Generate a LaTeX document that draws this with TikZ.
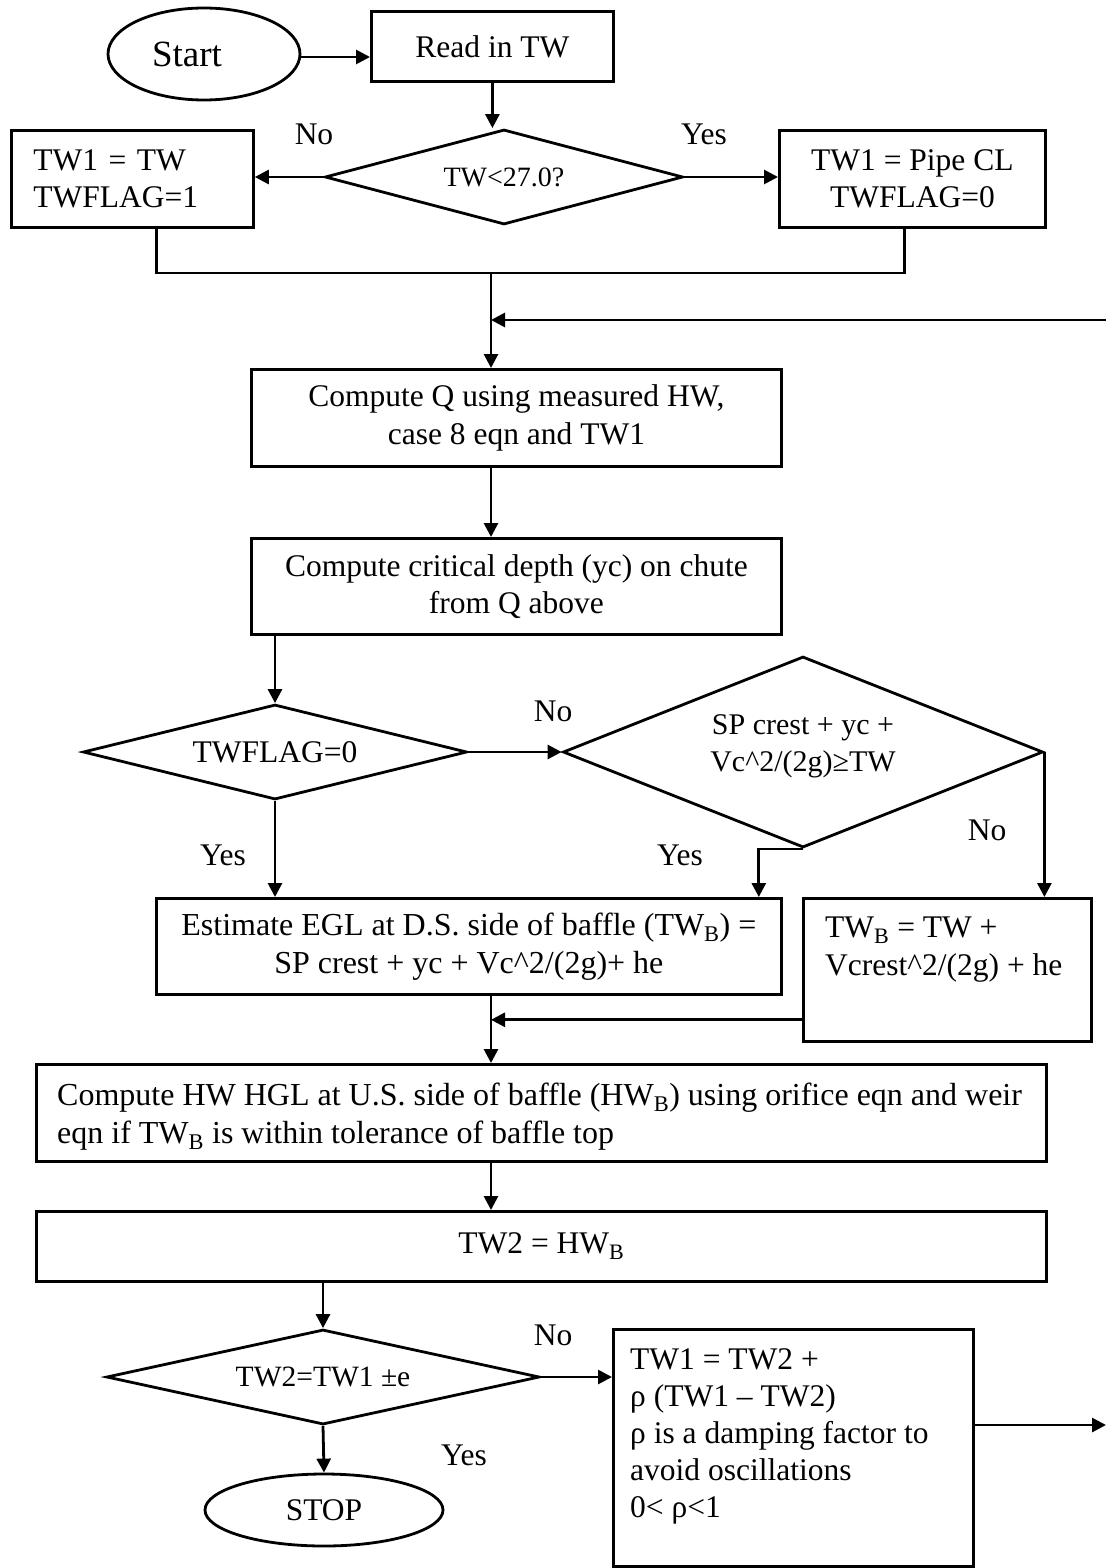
\documentclass[tikz,border=0pt]{standalone}
\usepackage{fontspec}
\setmainfont{Liberation Serif}
\usetikzlibrary{shapes.geometric,arrows.meta}
\begin{document}
\begin{tikzpicture}[x=1pt,y=-1pt,
  every node/.style={font=\fontsize{31.5}{37.5}\selectfont},
  box/.style={draw, line width=2.8pt, rectangle, inner sep=0pt, anchor=north west},
  dia/.style={draw, line width=2.8pt, diamond, inner sep=0pt, align=center},
  oval/.style={draw, line width=2.8pt, ellipse, inner sep=0pt},
  arr/.style={line width=2.8pt, -{Triangle[length=14pt,width=14pt]}},
  ln/.style={line width=2.8pt},
  txt/.style={inner sep=0pt, align=left, anchor=base west},
  lbl/.style={inner sep=0pt}]
\useasboundingbox (0,0) rectangle (1106,1568);

% nodes
\node[oval, minimum width=192pt, minimum height=92pt] (start) at (204,54) {};
\node[inner sep=0pt, font=\fontsize{37}{40}\selectfont] (startt) at (187,54) {Start};
\node[box, minimum width=242pt, minimum height=70pt] (read) at (370,10) {Read in TW};
\node[dia, shape aspect=3.77, minimum width=358pt, minimum height=95pt, font=\fontsize{28}{34}\selectfont] (d1) at (504,177) {TW<27.0?};
\node[box, minimum width=242pt, minimum height=97pt, align=left, text width=198pt] (l1) at (10,129) {TW1 = TW\\TWFLAG=1};
\node[box, minimum width=266pt, minimum height=97pt, align=center] (r1) at (778,129) {TW1 = Pipe CL\\TWFLAG=0};
\node[box, minimum width=530pt, minimum height=97pt, align=center] (cq) at (250,368) {Compute Q using measured HW,\\case 8 eqn and TW1};
\node[box, minimum width=530pt, minimum height=96pt, align=center] (cd) at (250,537) {Compute critical depth (yc) on chute\\from Q above};
\node[dia, shape aspect=4, minimum width=384pt, minimum height=95pt] (d2) at (275,752) {TWFLAG=0};
\node[dia, shape aspect=2.5, minimum width=480pt, minimum height=191pt] (d3) at (803,752) {};
\node[inner sep=0pt, align=center, font=\fontsize{30}{37}\selectfont] (d3t) at (803,746) {SP crest + yc +\\Vc\textasciicircum 2/(2g)≥TW};
\node[box, minimum width=625pt, minimum height=96pt, align=center, font=\fontsize{32}{38}\selectfont] (est) at (155,897) {Estimate EGL at D.S. side of baffle (TW\textsubscript{B}) =\\SP crest + yc + Vc\textasciicircum 2/(2g)+ he};
\node[box, minimum width=288pt, minimum height=143pt] (twb) at (802,897) {};
\node[txt] (twbt) at (825,975) {TW\textsubscript{B} = TW +\\Vcrest\textasciicircum 2/(2g) + he};
\node[box, minimum width=1010pt, minimum height=97pt] (hw) at (35,1063) {};
\node[txt, font=\fontsize{32}{38}\selectfont] (hwt) at (57,1143) {Compute HW HGL at U.S. side of baffle (HW\textsubscript{B}) using orifice eqn and weir\\eqn if TW\textsubscript{B} is within tolerance of baffle top};
\node[box, minimum width=1010pt, minimum height=70pt] (tw2) at (35,1210) {TW2 = HW\textsubscript{B}};
\node[dia, shape aspect=4.5, minimum width=433pt, minimum height=95pt, font=\fontsize{29.5}{34}\selectfont] (d4) at (323,1377) {TW2=TW1 ±e};
\node[box, minimum width=360pt, minimum height=237pt] (rho) at (612,1328) {};
\node[txt, font=\fontsize{31.5}{36.8}\selectfont] (rhot) at (630,1517) {TW1 = TW2 +\\ρ (TW1 – TW2)\\ρ is a damping factor to\\avoid oscillations\\0< ρ<1};
\node[oval, minimum width=238pt, minimum height=72pt] (stop) at (324,1510) {STOP};

% labels
\node[lbl] (n1) at (314,134) {No};
\node[lbl] (y1) at (704,134) {Yes};
\node[lbl] (n2) at (553,711) {No};
\node[lbl] (y2) at (223,855) {Yes};
\node[lbl] (y3) at (680,855) {Yes};
\node[lbl] (n3) at (987,830) {No};
\node[lbl] (n4) at (553,1335) {No};
\node[lbl] (y4) at (464,1455) {Yes};

% connectors
\coordinate (j1) at (491,273);
\coordinate (fb) at (1106,320);
\coordinate (out) at (1106,1425);
\draw[arr] (start.east |- 0,57) -- (read.west |- 0,57);
\draw[arr] (read.south) -- (read.south |- d1.north);
\draw[arr] (d1.west) -- (l1.east |- d1.west);
\draw[arr] (d1.east) -- (r1.west |- d1.east);
\draw[ln] ([xshift=24pt]l1.south) |- ([xshift=-8pt]r1.south |- j1) -- ([xshift=-8pt]r1.south);
\draw[arr] (j1) -- (cq.north -| j1);
\draw[arr] (fb) -- (fb -| j1);
\draw[arr] (cq.south -| j1) -- (cd.north -| j1);
\draw[arr] (cd.south -| d2.north) -- (d2.north);
\draw[arr] (d2.east) -- (d3.west);
\draw[arr] (d2.south) -- (d2.south |- est.north);
\draw[arr] (d3.south) -| ([xshift=-24pt]est.north east);
\draw[arr] (d3.east) -- (d3.east |- twb.north);
\draw[arr] ([yshift=23pt]twb.south west) -- ([yshift=23pt]twb.south west -| j1);
\draw[arr] (est.south -| j1) -- (hw.north -| j1);
\draw[arr] (hw.south -| j1) -- (tw2.north -| j1);
\draw[arr] (tw2.south -| d4.north) -- (d4.north);
\draw[arr] (d4.east) -- (rho.west |- d4.east);
\draw[arr] (d4.south) -- (stop.north);
\draw[arr] (rho.east |- out) -- (out);
\end{tikzpicture}
\end{document}
